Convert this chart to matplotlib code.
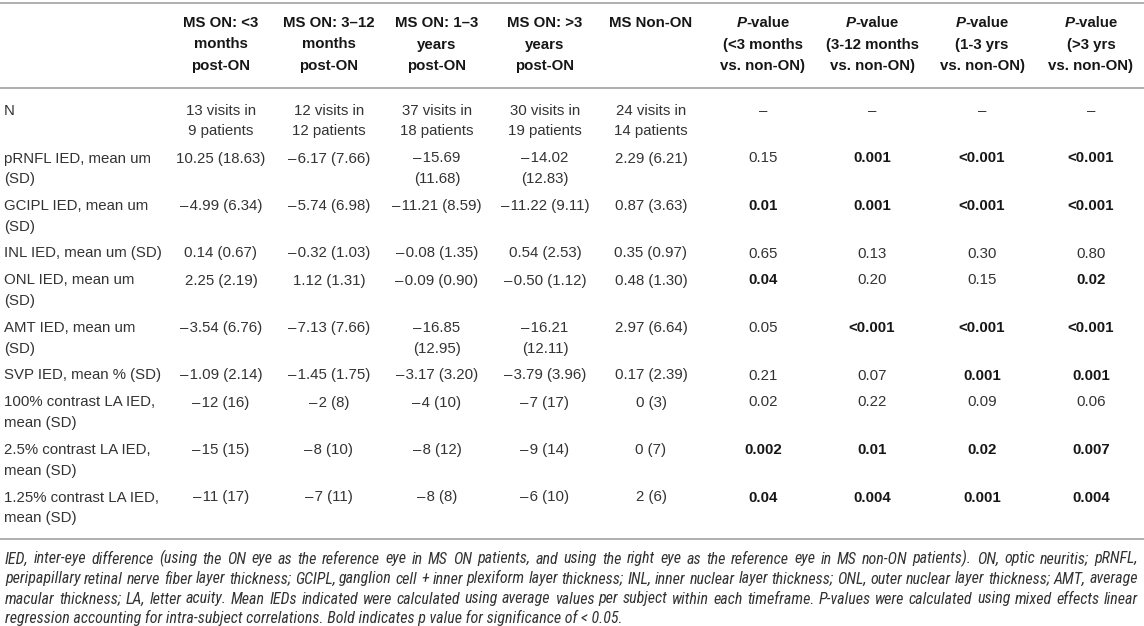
import matplotlib
matplotlib.use("Agg")
import matplotlib.pyplot as plt
from matplotlib import font_manager
from matplotlib.font_manager import FontProperties

# ---------------- data ----------------
header_groups = [
    ["MS ON: <3", "months", "post-ON"],
    ["MS ON: 3–12", "months", "post-ON"],
    ["MS ON: 1–3", "years", "post-ON"],
    ["MS ON: >3", "years", "post-ON"],
    ["MS Non-ON"],
]
pval_headers = [
    ["(<3 months", "vs. non-ON)"],
    ["(3-12 months", "vs. non-ON)"],
    ["(1-3 yrs", "vs. non-ON)"],
    ["(>3 yrs", "vs. non-ON)"],
]
row_labels = [
    "N",
    "pRNFL IED, mean um\n(SD)",
    "GCIPL IED, mean um\n(SD)",
    "INL IED, mean um (SD)",
    "ONL IED, mean um\n(SD)",
    "AMT IED, mean um\n(SD)",
    "SVP IED, mean % (SD)",
    "100% contrast LA IED,\nmean (SD)",
    "2.5% contrast LA IED,\nmean (SD)",
    "1.25% contrast LA IED,\nmean (SD)",
]
ms_on_lt3m = ["13 visits in\n9 patients", "10.25 (18.63)", "−4.99 (6.34)", "0.14 (0.67)",
              "2.25 (2.19)", "−3.54 (6.76)", "−1.09 (2.14)", "−12 (16)", "−15 (15)", "−11 (17)"]
ms_on_3_12m = ["12 visits in\n12 patients", "−6.17 (7.66)", "−5.74 (6.98)", "−0.32 (1.03)",
               "1.12 (1.31)", "−7.13 (7.66)", "−1.45 (1.75)", "−2 (8)", "−8 (10)", "−7 (11)"]
ms_on_1_3y = ["37 visits in\n18 patients", "−15.69\n(11.68)", "−11.21 (8.59)", "−0.08 (1.35)",
              "−0.09 (0.90)", "−16.85\n(12.95)", "−3.17 (3.20)", "−4 (10)", "−8 (12)", "−8 (8)"]
ms_on_gt3y = ["30 visits in\n19 patients", "−14.02\n(12.83)", "−11.22 (9.11)", "0.54 (2.53)",
              "−0.50 (1.12)", "−16.21\n(12.11)", "−3.79 (3.96)", "−7 (17)", "−9 (14)", "−6 (10)"]
ms_non_on = ["24 visits in\n14 patients", "2.29 (6.21)", "0.87 (3.63)", "0.35 (0.97)",
             "0.48 (1.30)", "2.97 (6.64)", "0.17 (2.39)", "0 (3)", "0 (7)", "2 (6)"]
p_lt3m = ["–", "0.15", "0.01", "0.65", "0.04", "0.05", "0.21", "0.02", "0.002", "0.04"]
p_3_12m = ["–", "0.001", "0.001", "0.13", "0.20", "<0.001", "0.07", "0.22", "0.01", "0.004"]
p_1_3y = ["–", "<0.001", "<0.001", "0.30", "0.15", "<0.001", "0.001", "0.09", "0.02", "0.001"]
p_gt3y = ["–", "<0.001", "<0.001", "0.80", "0.02", "<0.001", "0.001", "0.06", "0.007", "0.004"]
sig_lt3m = [0, 0, 1, 0, 1, 0, 0, 0, 1, 1]
sig_3_12m = [0, 1, 1, 0, 0, 1, 0, 0, 1, 1]
sig_1_3y = [0, 1, 1, 0, 0, 1, 1, 0, 1, 1]
sig_gt3y = [0, 1, 1, 0, 1, 1, 1, 0, 1, 1]

footnote_lines = [
    "IED, inter-eye difference (using the ON eye as the reference eye in MS ON patients, and using the right eye as the reference eye in MS non-ON patients). ON, optic neuritis; pRNFL,",
    "peripapillary retinal nerve fiber layer thickness; GCIPL, ganglion cell + inner plexiform layer thickness; INL, inner nuclear layer thickness; ONL, outer nuclear layer thickness; AMT, average",
    "macular thickness; LA, letter acuity. Mean IEDs indicated were calculated using average values per subject within each timeframe. P-values were calculated using mixed effects linear",
    "regression accounting for intra-subject correlations. Bold indicates p value for significance of < 0.05.",
]

# ---------------- layout ----------------
W, H, DPI = 1144, 626, 100
PX = 72 / DPI
FS = 15 * PX
TXT = "#333333"
BLD = "#161616"
RULE = "#b0b0b0"

plt.rcParams["font.family"] = ["Liberation Sans", "DejaVu Sans"]

fig = plt.figure(figsize=(W / DPI, H / DPI), dpi=DPI)
ax = fig.add_axes([0, 0, 1, 1])
ax.set_xlim(0, W)
ax.set_ylim(H, 0)
ax.axis("off")
renderer = fig.canvas.get_renderer()

col_x = [221, 329, 437, 545, 651, 763, 872, 982, 1091]
label_x = 4
BASE = 5  # baseline offset from visual centre


def put(x, yc, s, ha="center", bold=False, italic=False, fs=FS, fp=None, color=None):
    if fp is not None:
        t = ax.text(x, yc + BASE, s, ha=ha, va="baseline", fontproperties=fp,
                    color=color or (BLD if bold else TXT))
        t.set_fontsize(fs)
        return t
    return ax.text(x, yc + BASE, s, ha=ha, va="baseline", fontsize=fs,
                   fontweight="bold" if bold else "normal",
                   fontstyle="italic" if italic else "normal",
                   color=color or (BLD if bold else TXT))


def wpx(t):
    return t.get_window_extent(renderer).width


def fmt(s):
    return s.replace("−", "–\u200a")


# rules
ax.hlines([3, 88, 539], 0, W, colors=RULE, lw=2 * PX)

# header
hy = [22, 43.5, 65]
for ci, lines in enumerate(header_groups):
    for li, s in enumerate(lines):
        put(col_x[ci], hy[li], s, bold=True)
for pi, lines in enumerate(pval_headers):
    cx = col_x[5 + pi]
    tp = put(0, hy[0], "P", ha="left", bold=True, italic=True)
    tv = put(0, hy[0], "-value", ha="left", bold=True)
    w1, w2 = wpx(tp), wpx(tv)
    x0 = cx - (w1 + w2) / 2
    tp.set_x(x0)
    tv.set_x(x0 + w1)
    for li, s in enumerate(lines):
        put(cx, hy[li + 1], s, bold=True)

# body
value_cols = [ms_on_lt3m, ms_on_3_12m, ms_on_1_3y, ms_on_gt3y, ms_non_on]
p_cols = [p_lt3m, p_3_12m, p_1_3y, p_gt3y]
sig_cols = [sig_lt3m, sig_3_12m, sig_1_3y, sig_gt3y]
LINE = 20.5
GAP = 6.5
y = 110
for r, lab in enumerate(row_labels):
    lab_lines = lab.split("\n")
    nlines = len(lab_lines)
    for li, s in enumerate(lab_lines):
        put(label_x, y + li * LINE, s, ha="left")
    for ci, col in enumerate(value_cols):
        parts = col[r].split("\n")
        nlines = max(nlines, len(parts))
        for li, s in enumerate(parts):
            put(col_x[ci], y + li * LINE, fmt(s))
    for pi, col in enumerate(p_cols):
        put(col_x[5 + pi], y, col[r], bold=bool(sig_cols[pi][r]))
    y += nlines * LINE + GAP


# footnote font: prefer a condensed/narrow italic sans
def _w(f):
    w = f.weight
    if isinstance(w, str):
        w = font_manager.weight_dict.get(w, 400)
    return w


prio = ["Liberation Sans Narrow", "Roboto Condensed", "Open Sans Condensed",
        "DejaVu Sans Condensed", "Noto Sans Condensed"]
best = None
best_rank = 999
for f in font_manager.fontManager.ttflist:
    nm = f.name
    path = f.fname
    cond = ("Narrow" in nm or "Condensed" in nm or "Condensed" in path or "Narrow" in path
            or str(f.stretch) in ("condensed", "semi-condensed"))
    if not cond or f.style not in ("italic", "oblique"):
        continue
    if not (300 <= _w(f) <= 450):
        continue
    rank = 50
    for i, p in enumerate(prio):
        if p.replace(" ", "") in (nm + path).replace(" ", "").replace("-", ""):
            rank = i
            break
    if "DejaVu" in nm and rank == 50:
        rank = 3
    if _w(f) != 400:
        rank += 0.5
    if rank < best_rank:
        best, best_rank = f, rank
if best is not None:
    foot_fp = FontProperties(fname=best.fname)
else:
    foot_fp = FontProperties(family=["Liberation Sans"], style="italic")

x_left, x_right = 5, 1138
nat = []
for line in footnote_lines[:-1]:
    probe = put(0, 0, line, ha="left", fs=10, fp=foot_fp)
    nat.append(wpx(probe))
    probe.remove()
ffs = 10 * (x_right - x_left) / max(nat) * 0.995

fy = [559, 579, 599, 619]
for li, line in enumerate(footnote_lines):
    if li == len(footnote_lines) - 1:
        put(x_left, fy[li] - 0.5, line, ha="left", fs=ffs, fp=foot_fp)
        continue
    words = line.split(" ")
    texts = [put(0, fy[li] - 0.5, w, ha="left", fs=ffs, fp=foot_fp) for w in words]
    widths = [wpx(t) for t in texts]
    gap = (x_right - x_left - sum(widths)) / (len(words) - 1)
    x = x_left
    for t, w in zip(texts, widths):
        t.set_x(x)
        x += w + gap

fig.savefig("out.png", dpi=DPI)
